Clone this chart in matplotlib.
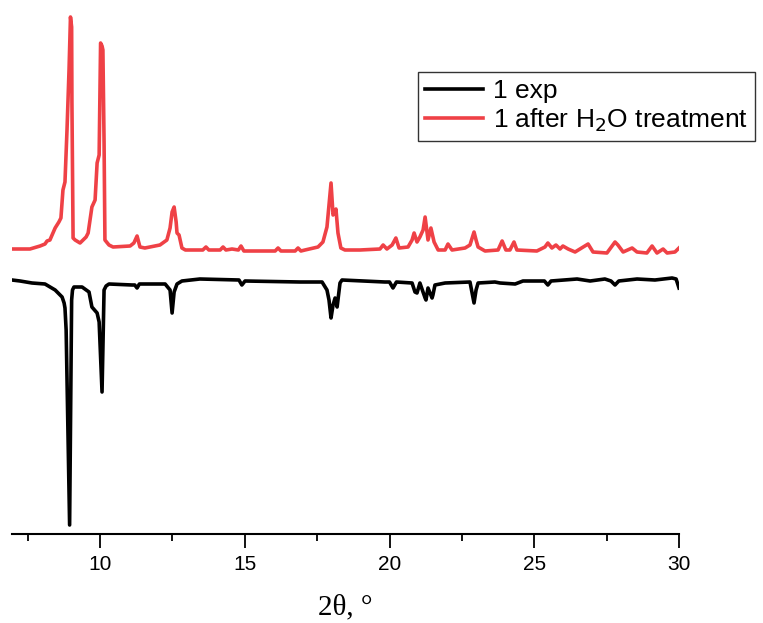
import matplotlib
matplotlib.use("Agg")
import matplotlib.pyplot as plt

# traced PXRD patterns (2theta in degrees, intensity in a.u.)
two_theta_exp = [
    6.96, 7.24, 7.65, 8.10, 8.45, 8.69, 8.76, 8.79, 8.83, 8.95, 9.02, 9.05,
    9.10, 9.38, 9.62, 9.72, 9.90, 9.97, 10.07, 10.14, 10.21, 10.31, 11.11,
    11.20, 11.28, 11.36, 12.25, 12.42, 12.49, 12.56, 12.66, 12.83, 13.45,
    14.80, 14.90, 15.01, 16.91, 17.67, 17.84, 17.91, 17.98, 18.05, 18.12,
    18.19, 18.29, 18.36, 19.84, 20.00, 20.12, 20.24, 20.78, 20.88, 20.95,
    21.05, 21.23, 21.26, 21.33, 21.47, 21.50, 21.57, 21.92, 22.78, 22.92,
    22.99, 23.06, 23.64, 23.82, 24.34, 24.61, 25.35, 25.47, 25.58, 26.48,
    26.93, 27.44, 27.65, 27.79, 27.92, 28.55, 29.17, 29.76, 29.90, 30.00,
]
intensity_exp = [
    2, 3, 5, 6, 12, 19, 25, 30, 52, 247, 22, 12,
    9, 9, 14, 29, 35, 44, 114, 12, 8, 6, 7,
    7, 10, 6, 6, 12, 35, 14, 6, 3, 1,
    2, 7, 3, 4, 4, 12, 22, 40, 27, 20,
    29, 5, 2, 4, 4, 10, 4, 5, 14, 15,
    5, 20, 22, 10, 20, 17, 7, 5, 4, 25,
    12, 5, 4, 5, 6, 3, 3, 7, 3, 1,
    3, 1, 3, 7, 3, 1, 2, 0, 1, 10,
]

two_theta_h2o = [
    6.96, 7.58, 7.93, 8.10, 8.17, 8.27, 8.45, 8.58, 8.65, 8.72, 8.79, 8.86,
    8.93, 8.98, 9.02, 9.03, 9.07, 9.14, 9.31, 9.52, 9.59, 9.72, 9.83, 9.90,
    9.97, 10.02, 10.07, 10.10, 10.14, 10.17, 10.31, 10.45, 11.04, 11.17,
    11.28, 11.38, 11.55, 12.07, 12.31, 12.42, 12.49, 12.56, 12.63, 12.66,
    12.73, 12.83, 12.95, 13.55, 13.66, 13.76, 14.15, 14.25, 14.35, 14.56,
    14.78, 14.87, 14.97, 15.53, 16.05, 16.15, 16.25, 16.74, 16.84, 16.94,
    17.08, 17.53, 17.70, 17.84, 17.91, 17.98, 18.05, 18.12, 18.15, 18.22,
    18.32, 18.46, 18.98, 19.67, 19.78, 19.91, 20.09, 20.22, 20.33, 20.64,
    20.78, 20.85, 20.95, 21.05, 21.16, 21.23, 21.33, 21.43, 21.54, 21.68,
    21.92, 22.02, 22.16, 22.61, 22.78, 22.92, 22.99, 23.06, 23.30, 23.75,
    23.89, 24.02, 24.16, 24.30, 24.40, 25.09, 25.37, 25.47, 25.61, 25.75,
    25.89, 25.99, 26.17, 26.41, 26.86, 27.03, 27.51, 27.79, 27.89, 28.07,
    28.38, 28.55, 28.89, 29.07, 29.24, 29.45, 29.59, 29.86, 30.00,
]
intensity_h2o = [
    3, 3, 6, 8, 11, 12, 24, 30, 34, 62, 70, 122,
    182, 235, 225, 150, 14, 12, 9, 15, 19, 45, 52, 89,
    97, 209, 206, 202, 110, 12, 7, 5, 6, 9,
    16, 5, 4, 7, 12, 24, 40, 45, 30, 19,
    17, 4, 2, 2, 5, 2, 2, 5, 2, 3,
    2, 6, 1, 1, 1, 4, 1, 1, 4, 1,
    2, 5, 10, 25, 47, 69, 37, 40, 43, 19,
    4, 2, 2, 3, 7, 3, 7, 14, 4, 5,
    12, 19, 10, 15, 22, 35, 12, 24, 10, 2,
    2, 8, 2, 4, 7, 20, 12, 5, 1, 2,
    11, 2, 2, 10, 2, 1, 5, 9, 4, 7,
    3, 6, 3, 0, 8, 0, -1, 10, 7, 0,
    4, 0, -1, 6, -1, 3, -1, 0, 4,
]

OFFSET_H2O = 282
OFFSET_EXP = 256

plt.rcParams["font.family"] = ["Liberation Sans", "DejaVu Sans"]

fig = plt.figure(figsize=(7.63, 6.23), dpi=100)
ax = fig.add_axes([12 / 763, 1 - 534 / 623, 667 / 763, 529 / 623])

ax.plot(two_theta_exp, [OFFSET_EXP - v for v in intensity_exp],
        color="black", lw=2.6, solid_joinstyle="round", label="1 exp")
ax.plot(two_theta_h2o, [OFFSET_H2O + v for v in intensity_h2o],
        color="#EF4146", lw=2.6, solid_joinstyle="round",
        label="1 after H$_2$O treatment")

ax.set_xlim(6.96, 30.0)
ax.set_ylim(0, 529)
ax.set_xticks([10, 15, 20, 25, 30])
ax.set_xticks([7.5, 12.5, 17.5, 22.5, 27.5], minor=True)
ax.set_yticks([])
for side in ("top", "right", "left"):
    ax.spines[side].set_visible(False)
ax.spines["bottom"].set_linewidth(1.5)
ax.tick_params(axis="x", which="major", length=10, width=1.3, labelsize=15, pad=5)
ax.tick_params(axis="x", which="minor", length=5, width=1.3)
ax.set_xlabel("2θ, °", family=["Liberation Serif", "DejaVu Serif"],
              fontsize=21, labelpad=15)

leg = ax.legend(loc="upper left", bbox_to_anchor=(418 / 763, 1 - 72 / 623),
                bbox_transform=fig.transFigure, borderaxespad=0,
                fontsize=19, frameon=True, fancybox=False, handlelength=2.2,
                handletextpad=0.35, borderpad=0.28, labelspacing=0.12)
leg.get_frame().set_edgecolor("black")
leg.get_frame().set_linewidth(1.0)

fig.savefig("out.png", dpi=100)
plt.close(fig)
